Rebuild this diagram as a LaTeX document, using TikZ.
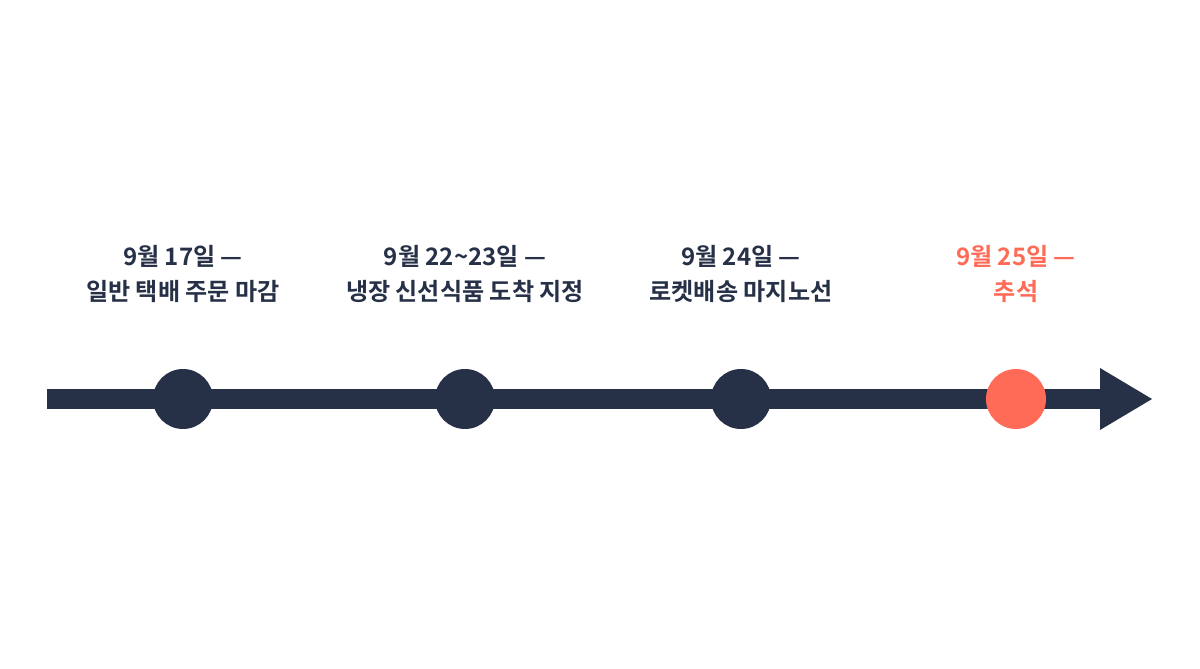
\documentclass[tikz,border=0pt]{standalone}
\usepackage{fontspec}
\setmainfont{Noto Sans CJK KR}[BoldFont={Noto Sans CJK KR Bold}]
\definecolor{navy}{HTML}{263047}
\definecolor{coral}{HTML}{FF6B57}
\tikzset{
  dot/.style={circle,fill=navy,minimum size=1.2cm,inner sep=0pt},
  label/.style={align=center,font=\fontsize{13.7}{19.5}\selectfont\bfseries,text=navy}
}
\begin{document}
\begin{tikzpicture}[x=0.02cm,y=-0.02cm]
\useasboundingbox[fill=white] (0,0) rectangle (1200,669);

% Timeline
\coordinate (start) at (47,399);
\coordinate (head) at (1102,399);
\coordinate (tip) at (1152,399);
\draw[navy,line width=0.4cm] (start) -- (head);
\fill[navy] (1100,368) -- (tip) -- (1100,430) -- cycle;

% Dates
\node[dot] (d1) at (183,399) {};
\node[dot] (d2) at (465,399) {};
\node[dot] (d3) at (741,399) {};
\node[dot,fill=coral] (d4) at (1016,399) {};

% Labels
\node[label] (l1) at (183,274) {9월 17일 —\\일반 택배 주문 마감};
\node[label] (l2) at (465,274) {9월 22\textasciitilde23일 —\\냉장 신선식품 도착 지정};
\node[label] (l3) at (741,274) {9월 24일 —\\로켓배송 마지노선};
\node[label,text=coral] (l4) at (1016,274) {9월 25일 —\\추석};
\end{tikzpicture}
\end{document}
